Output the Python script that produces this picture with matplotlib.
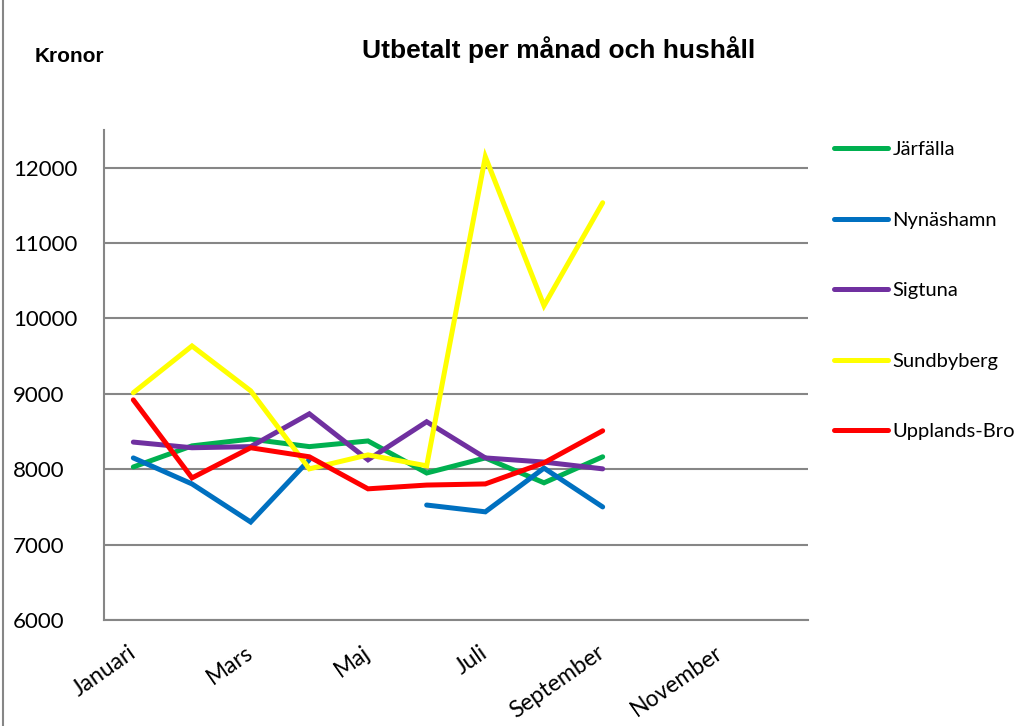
import numpy as np
import matplotlib
matplotlib.use("Agg")
from matplotlib import pyplot
from matplotlib.lines import Line2D

months = ["Januari", "Februari", "Mars", "April", "Maj", "Juni", "Juli",
          "Augusti", "September", "Oktober", "November", "December"]

jarfalla = [8030, 8310, 8400, 8300, 8375, 7950, 8150, 7820, 8165]
nynashamn = [8150, 7805, 7300, 8125, np.nan, 7525, 7435, 8015, 7500]
sigtuna = [8360, 8285, 8300, 8735, 8125, 8630, 8150, 8095, 8005]
sundbyberg = [9015, 9635, 9040, 8005, 8190, 8045, 12145, 10170, 11535]
upplands_bro = [8920, 7885, 8285, 8165, 7740, 7790, 7805, 8085, 8510]

series = [
    ("Järfälla", jarfalla, "#00B050"),
    ("Nynäshamn", nynashamn, "#0070C0"),
    ("Sigtuna", sigtuna, "#7030A0"),
    ("Sundbyberg", sundbyberg, "#FFFF00"),
    ("Upplands-Bro", upplands_bro, "#FF0000"),
]

grey = "#868686"
tick_font = "Lato"

fig = pyplot.figure(figsize=(10.18, 7.26), dpi=100)
ax = fig.add_axes([104 / 1018, 1 - 620 / 726, (808 - 104) / 1018, (620 - 130) / 726])

x = np.arange(len(jarfalla))
for name, values, color in series:
    ax.plot(x, values, color=color, lw=3.6, solid_capstyle="round",
            solid_joinstyle="miter", label=name)

ax.set_xlim(-0.5, len(months) - 0.5)
ax.set_ylim(6000, 12500)
ax.set_yticks(range(6000, 12001, 1000))
ax.set_yticklabels([str(v) for v in range(6000, 12001, 1000)],
                   fontsize=16, family=tick_font, ha="left")
ax.set_xticks(range(0, len(months), 2))
ax.set_xticklabels(months[::2], rotation=35, ha="right", va="center",
                   rotation_mode="anchor", fontsize=16.5, family=tick_font)
ax.tick_params(axis="x", length=0, pad=22)
# left-aligned y labels starting near the chart edge
ax.tick_params(axis="y", length=0, pad=(104 - 13) * 72 / 100)

ax.grid(axis="y", color=grey, lw=1.5)
ax.set_axisbelow(True)
for side in ["top", "right"]:
    ax.spines[side].set_visible(False)
for side in ["left", "bottom"]:
    ax.spines[side].set_color(grey)
    ax.spines[side].set_linewidth(1.5)

handles = [Line2D([], [], color=c, lw=3.6, solid_capstyle="round") for _, _, c in series]
leg = fig.legend(handles, [s[0] for s in series], loc="upper left",
                 bbox_to_anchor=(826 / 1018, 1 - 133 / 726), frameon=False,
                 prop={"family": tick_font, "size": 14.5}, labelspacing=2.65,
                 handlelength=2.7, handletextpad=0.2, borderaxespad=0)

fig.text(362 / 1018, 1 - 50 / 726, "Utbetalt per månad och hushåll",
         fontsize=19, fontweight="bold", family="Liberation Sans", va="center")
fig.text(35 / 1018, 1 - 56 / 726, "Kronor", fontsize=15, fontweight="bold",
         family="Liberation Sans", va="center")

fig.add_artist(Line2D([3 / 1018, 3 / 1018], [0, 1], color=grey, lw=1.5))

fig.savefig("out.png", dpi=100)
